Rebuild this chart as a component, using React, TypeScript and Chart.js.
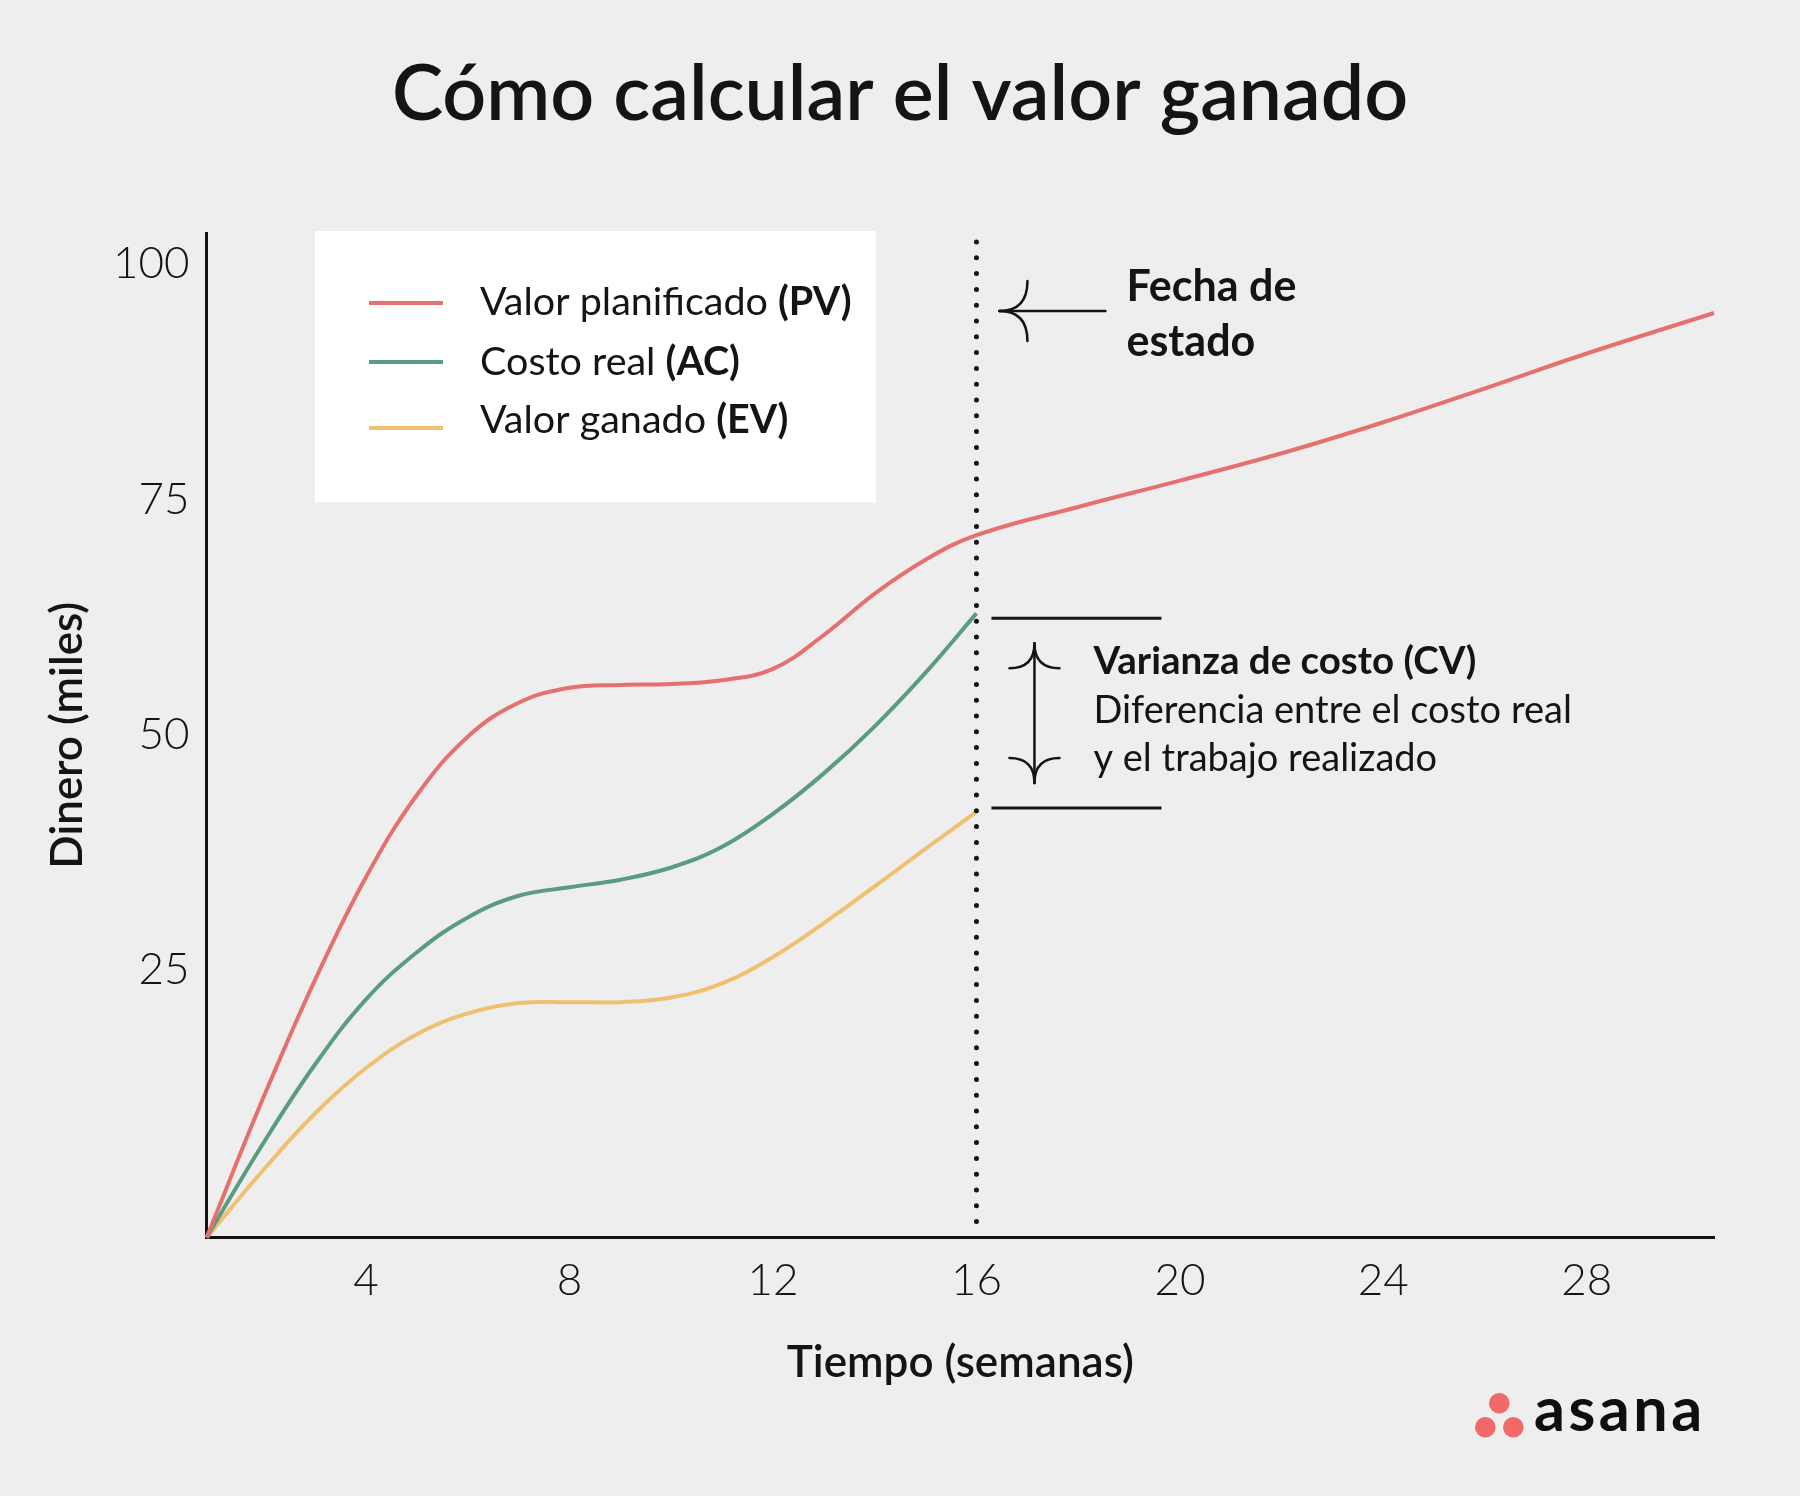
import React, { useEffect, useRef } from 'react';
import { Chart, registerables } from 'chart.js';

Chart.register(...registerables);

// ---------- data ----------
const chartTitle = 'Cómo calcular el valor ganado';
const xAxisTitle = 'Tiempo (semanas)';
const yAxisTitle = 'Dinero (miles)';

const xTickValues = [4, 8, 12, 16, 20, 24, 28];
const yTickValues = [25, 50, 75, 100];

const weeksPlanned = [0.865, 2, 3, 4, 5, 6, 7, 8, 9, 10, 11, 12, 13, 14, 15, 16, 18, 20, 22, 24, 26, 28, 30.5];
const plannedValue = [-3.4, 11.7, 24.0, 34.9, 43.6, 49.8, 53.4, 55.0, 55.3, 55.4, 55.8, 57.0, 60.6, 65.0, 68.6, 71.2, 74.2, 77.0, 79.9, 83.2, 86.8, 90.5, 94.8];

const weeksToDate = [0.865, 2, 3, 4, 5, 6, 7, 8, 9, 10, 11, 12, 13, 14, 15, 16];
const actualCost = [-3.4, 6.8, 15.0, 21.9, 26.9, 30.6, 32.9, 33.8, 34.6, 35.9, 38.1, 41.6, 45.9, 50.9, 56.6, 62.9];
const earnedValue = [-3.4, 3.9, 9.8, 14.6, 18.2, 20.4, 21.5, 21.6, 21.6, 22.1, 23.6, 26.4, 30.0, 33.9, 37.9, 41.8];

const seriesNames = ['Valor planificado', 'Costo real', 'Valor ganado'];
const seriesCodes = ['(PV)', '(AC)', '(EV)'];
const seriesColors = ['#E5716F', '#5A9C7E', '#EFC06F'];

const statusWeek = 16;
const statusLabel = ['Fecha de', 'estado'];
const cvTitle = 'Varianza de costo (CV)';
const cvLines = ['Diferencia entre el costo real', 'y el trabajo realizado'];
const brandName = 'asana';

const X_MIN = 0.865;
const X_MAX = 30.5;
const Y_MIN = -3.4;
const Y_MAX = 103.3;

const FONT = 'Lato, "Noto Sans", sans-serif';
const INK = '#141414';

function toPoints(xs: number[], ys: number[]) {
  return xs.map((x, i) => ({ x, y: ys[i] }));
}

function curvedHead(ctx: CanvasRenderingContext2D, tx: number, ty: number, dx: number, dy: number, len: number, spread: number) {
  const px = -dy;
  const py = dx;
  for (const s of [1, -1]) {
    ctx.beginPath();
    ctx.moveTo(tx, ty);
    ctx.quadraticCurveTo(tx + dx * len, ty + dy * len, tx + dx * len + px * spread * s, ty + dy * len + py * spread * s);
    ctx.stroke();
  }
}

const annotationPlugin = {
  id: 'evAnnotations',
  afterDraw(chart: any) {
    const { ctx, chartArea, scales } = chart;
    const xs = scales.x;
    const ys = scales.y;
    ctx.save();

    // legend box
    const bx = 315;
    const by = 231;
    ctx.fillStyle = '#ffffff';
    ctx.fillRect(bx, by, 561, 271.5);
    const lineYs = [72, 131, 197];
    const textYs = [84, 143.5, 202];
    for (let i = 0; i < seriesNames.length; i++) {
      ctx.strokeStyle = seriesColors[i];
      ctx.lineWidth = 4;
      ctx.lineCap = 'butt';
      ctx.beginPath();
      ctx.moveTo(bx + 54, by + lineYs[i]);
      ctx.lineTo(bx + 128, by + lineYs[i]);
      ctx.stroke();
      ctx.fillStyle = INK;
      ctx.textBaseline = 'alphabetic';
      ctx.textAlign = 'left';
      let cx = bx + 165;
      ctx.font = `400 39.5px ${FONT}`;
      const t = seriesNames[i] + ' ';
      ctx.fillText(t, cx, by + textYs[i]);
      cx += ctx.measureText(t).width;
      ctx.font = `700 39.5px ${FONT}`;
      ctx.fillText(seriesCodes[i], cx, by + textYs[i]);
    }

    // status date dotted line
    const x16 = xs.getPixelForValue(statusWeek);
    ctx.strokeStyle = INK;
    ctx.lineWidth = 5;
    ctx.lineCap = 'round';
    ctx.setLineDash([0, 15.8]);
    ctx.beginPath();
    ctx.moveTo(x16, chartArea.top + 9);
    ctx.lineTo(x16, chartArea.bottom - 9);
    ctx.stroke();
    ctx.setLineDash([]);

    // status arrow
    ctx.lineWidth = 2.5;
    ctx.lineCap = 'round';
    const ay = chartArea.top + 78;
    const tipX = x16 + 23;
    ctx.beginPath();
    ctx.moveTo(tipX, ay);
    ctx.lineTo(x16 + 129, ay);
    ctx.stroke();
    curvedHead(ctx, tipX, ay, 1, 0, 28, 30);

    ctx.fillStyle = INK;
    ctx.font = `700 43px ${FONT}`;
    ctx.textAlign = 'left';
    ctx.textBaseline = 'alphabetic';
    ctx.fillText(statusLabel[0], x16 + 150, chartArea.top + 67.5);
    ctx.fillText(statusLabel[1], x16 + 150, chartArea.top + 123);

    // cost variance bracket
    const yTop = ys.getPixelForValue(actualCost[actualCost.length - 1]) + 5;
    const yBot = ys.getPixelForValue(earnedValue[earnedValue.length - 1]) - 4;
    ctx.lineWidth = 3;
    ctx.lineCap = 'butt';
    ctx.beginPath();
    ctx.moveTo(x16 + 15, yTop);
    ctx.lineTo(x16 + 185, yTop);
    ctx.moveTo(x16 + 15, yBot);
    ctx.lineTo(x16 + 185, yBot);
    ctx.stroke();

    const vx = x16 + 58;
    ctx.lineWidth = 2.5;
    ctx.lineCap = 'round';
    ctx.beginPath();
    ctx.moveTo(vx, yTop + 25);
    ctx.lineTo(vx, yBot - 25);
    ctx.stroke();
    curvedHead(ctx, vx, yTop + 25, 0, 1, 25, 25);
    curvedHead(ctx, vx, yBot - 25, 0, -1, 25, 25);

    ctx.font = `700 38.5px ${FONT}`;
    ctx.fillText(cvTitle, x16 + 117, yTop + 55.5);
    ctx.font = `400 38px ${FONT}`;
    ctx.fillText(cvLines[0], x16 + 117, yTop + 105);
    ctx.fillText(cvLines[1], x16 + 117, yTop + 153);

    // brand
    ctx.fillStyle = '#F06A6A';
    const dots = [[1499.3, 1403.3], [1485.3, 1427.3], [1513.3, 1427.3]];
    for (const [dx, dy] of dots) {
      ctx.beginPath();
      ctx.arc(dx, dy, 10.3, 0, Math.PI * 2);
      ctx.fill();
    }
    ctx.fillStyle = '#0E0E10';
    ctx.font = `700 61px ${FONT}`;
    try {
      (ctx as any).letterSpacing = '3.5px';
    } catch (e) {
      /* ignore */
    }
    ctx.fillText(brandName, 1534, 1431);
    try {
      (ctx as any).letterSpacing = '0px';
    } catch (e) {
      /* ignore */
    }

    ctx.restore();
  },
};

export default function App() {
  const ref = useRef<HTMLCanvasElement>(null);

  useEffect(() => {
    document.body.style.margin = '0';
    const canvas = ref.current;
    if (!canvas) return;
    const chart = new Chart(canvas, {
      type: 'line',
      data: {
        datasets: [
          {
            label: seriesNames[0] + ' ' + seriesCodes[0],
            data: toPoints(weeksPlanned, plannedValue),
            borderColor: seriesColors[0],
          },
          {
            label: seriesNames[1] + ' ' + seriesCodes[1],
            data: toPoints(weeksToDate, actualCost),
            borderColor: seriesColors[1],
          },
          {
            label: seriesNames[2] + ' ' + seriesCodes[2],
            data: toPoints(weeksToDate, earnedValue),
            borderColor: seriesColors[2],
          },
        ].map((d) => ({
          ...d,
          borderWidth: 4,
          pointRadius: 0,
          fill: false,
          tension: 0.4,
          clip: false as any,
        })),
      },
      options: {
        responsive: false,
        animation: false,
        layout: { padding: { top: 0, left: 0, right: 0, bottom: 0 } },
        plugins: {
          legend: { display: false },
          tooltip: { enabled: false },
          title: {
            display: true,
            text: chartTitle,
            color: INK,
            font: { family: FONT, size: 77, weight: 600 as any },
            padding: { top: 49, bottom: 91.6 },
          },
        },
        scales: {
          x: {
            type: 'linear',
            min: X_MIN,
            max: X_MAX,
            grid: { display: false, drawTicks: false },
            border: { display: true, color: INK, width: 3 },
            afterBuildTicks: (s: any) => {
              s.ticks = xTickValues.map((v) => ({ value: v }));
            },
            afterFit: (s: any) => {
              s.height = 258.5;
            },
            ticks: {
              color: INK,
              padding: 17,
              maxRotation: 0,
              autoSkip: false,
              font: { family: FONT, size: 44, weight: 300 as any },
            },
            title: {
              display: true,
              text: xAxisTitle,
              color: INK,
              font: { family: FONT, size: 44, weight: 600 as any },
              padding: { top: 0, bottom: 107 },
            },
          },
          y: {
            type: 'linear',
            min: Y_MIN,
            max: Y_MAX,
            grid: { display: false, drawTicks: false },
            border: { display: true, color: INK, width: 3 },
            afterBuildTicks: (s: any) => {
              s.ticks = yTickValues.map((v) => ({ value: v }));
            },
            afterFit: (s: any) => {
              s.width = 206.6;
            },
            ticks: {
              color: INK,
              padding: 17,
              autoSkip: false,
              font: { family: FONT, size: 44, weight: 300 as any },
            },
            title: {
              display: true,
              text: yAxisTitle,
              color: INK,
              font: { family: FONT, size: 44, weight: 600 as any },
              padding: { top: 41, bottom: 0 },
            },
          },
          yRight: {
            type: 'linear',
            position: 'right',
            display: true,
            grid: { display: false, drawTicks: false },
            border: { display: false },
            ticks: { display: false },
            afterFit: (s: any) => {
              s.width = 86;
            },
          },
        },
      },
      plugins: [annotationPlugin],
    });
    return () => chart.destroy();
  }, []);

  return (
    <div style={{ width: 1800, height: 1496, background: '#EFEEEE' }}>
      <canvas ref={ref} width={1800} height={1496} style={{ display: 'block', width: 1800, height: 1496 }} />
    </div>
  );
}
